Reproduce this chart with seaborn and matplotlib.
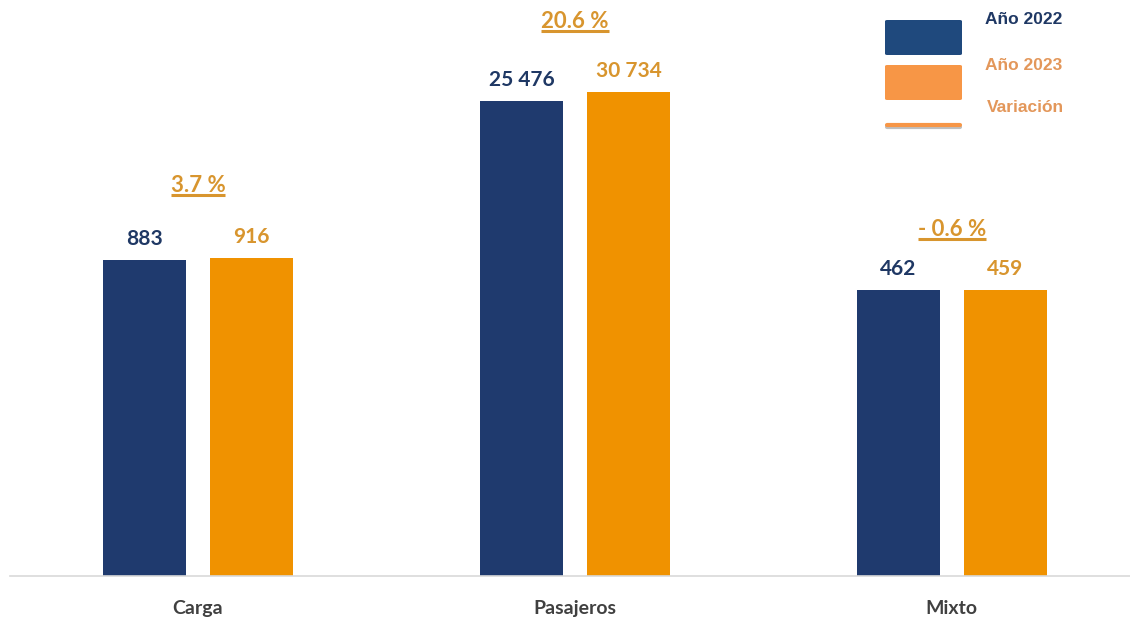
import pandas as pd
import numpy as np
import matplotlib.pyplot as plt
import matplotlib.patches as mpatches
import seaborn as sns

# Data
categories = ['Carga', 'Pasajeros', 'Mixto']
years = ['Año 2022', 'Año 2023']
values_2022 = [883, 25476, 462]
values_2023 = [916, 30734, 459]
variation = ['3.7 %', '20.6 %', '- 0.6 %']
# the original chart is not drawn to scale: visible bar heights per group
bar_height_2022 = [316, 475, 286]
bar_height_2023 = [318, 484, 286]

navy = '#1F3A6E'
orange = '#F09200'
navy_txt = '#1F3864'
orange_txt = '#D8952E'
var_offsets = [62, 60, 50]

sns.set_theme(style='white')
plt.rcParams['font.family'] = ['Lato', 'DejaVu Sans']

df = pd.DataFrame({
    'Categoria': categories * 2,
    'Serie': [years[0]] * 3 + [years[1]] * 3,
    'Altura': bar_height_2022 + bar_height_2023,
    'Valor': values_2022 + values_2023,
})

fig = plt.figure(figsize=(11.3, 6.2), dpi=100)
ax = fig.add_axes([10 / 1130, 44 / 620, 1120 / 1130, 576 / 620])

sns.barplot(data=df, x='Categoria', y='Altura', hue='Serie',
            palette=[navy, orange], width=0.568, gap=0.224,
            saturation=1, linewidth=0, legend=False, ax=ax)

ax.set_xlim(-0.499, 2.473)
ax.set_ylim(0, 576)
ax.set_xlabel('')
ax.set_ylabel('')
ax.set_yticks([])
for s in ['top', 'left', 'right']:
    ax.spines[s].set_visible(False)
ax.spines['bottom'].set_color('#D9D9D9')
ax.spines['bottom'].set_linewidth(1.2)
ax.tick_params(axis='x', length=0, pad=17)
for lbl in ax.get_xticklabels():
    lbl.set_fontsize(14)
    lbl.set_color('#404040')
    lbl.set_fontweight('bold')

# value labels on the bars
for cont, vals, col in zip(ax.containers, [values_2022, values_2023], [navy_txt, orange_txt]):
    for bar, v in zip(cont, vals):
        txt = f'{v:,}'.replace(',', ' ')
        ax.text(bar.get_x() + bar.get_width() / 2, bar.get_height() + 11, txt,
                ha='center', va='bottom', fontsize=15, fontweight='bold', color=col)

# variation labels, underlined
fig.canvas.draw()
renderer = fig.canvas.get_renderer()
for i, var in enumerate(variation):
    top = max(bar_height_2022[i], bar_height_2023[i])
    t = ax.text(i, top + var_offsets[i], var, ha='center', va='bottom', fontsize=16,
                fontweight='bold', color=orange_txt)
    bb = t.get_window_extent(renderer).transformed(ax.transData.inverted())
    ax.plot([bb.x0, bb.x1], [bb.y0 + 1, bb.y0 + 1], color=orange_txt, lw=2.2,
            solid_capstyle='butt')

# legend drawn by hand to copy the original layout
def fpx(x, y):
    return x / 1130, 1 - y / 620

x0, y0 = fpx(885, 55)
fig.patches.append(mpatches.FancyBboxPatch(
    (x0, y0), 77 / 1130, 35 / 620, boxstyle='round,pad=0,rounding_size=0.002',
    transform=fig.transFigure, facecolor='#1F497D', edgecolor='none'))
x0, y0 = fpx(885, 100)
fig.patches.append(mpatches.FancyBboxPatch(
    (x0, y0), 77 / 1130, 35 / 620, boxstyle='round,pad=0,rounding_size=0.002',
    transform=fig.transFigure, facecolor='#F79646', edgecolor='none'))
fig.add_artist(plt.Line2D([887 / 1130, 960 / 1130], [1 - 127 / 620] * 2,
                          transform=fig.transFigure, color='#BFBFBF', lw=3))
fig.add_artist(plt.Line2D([887 / 1130, 960 / 1130], [1 - 125 / 620] * 2,
                          transform=fig.transFigure, color='#F79646', lw=3))

legend_font = ['Liberation Sans', 'DejaVu Sans']
fig.text(*fpx(985, 20), 'Año 2022', fontsize=12.5, fontweight='bold',
         color='#1F3864', va='center', family=legend_font)
fig.text(*fpx(985, 66), 'Año 2023', fontsize=12.5, fontweight='bold',
         color='#E3975A', va='center', family=legend_font)
fig.text(*fpx(987, 108), 'Variación', fontsize=12.5, fontweight='bold',
         color='#E3975A', va='center', family=legend_font)

fig.savefig('out.png', dpi=100)
